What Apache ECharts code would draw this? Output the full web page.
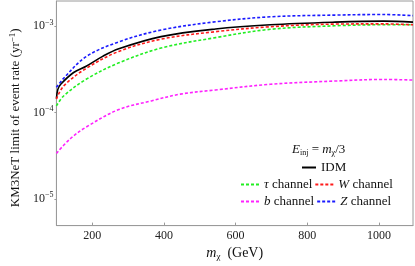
<!DOCTYPE html>
<html>
<head>
<meta charset="utf-8">
<script src="https://cdn.jsdelivr.net/npm/echarts@6/dist/echarts.min.js"></script>
<style>html,body{margin:0;padding:0;background:#fff;}#c{width:415px;height:266px;}</style>
</head>
<body>
<div id="c"></div>
<script>
// ---- data ----
const xTicks = [200, 400, 600, 800, 1000];
const yTicks = [1e-5, 1e-4, 1e-3];

const idmX = [100, 104, 112, 148, 183, 229, 274, 392, 544, 697, 877, 1013, 1095];
const idmY = [1.45e-4, 1.85e-4, 2.12e-4, 2.90e-4, 3.43e-4, 4.46e-4, 5.46e-4, 7.55e-4, 9.24e-4, 1.035e-3, 1.11e-3, 1.14e-3, 1.11e-3];

const tauX = [100, 120, 183, 274, 392, 544, 697, 877, 1013, 1095];
const tauY = [1.19e-4, 1.55e-4, 2.42e-4, 3.75e-4, 5.56e-4, 7.35e-4, 9.17e-4, 1.007e-3, 1.035e-3, 1.035e-3];

const wX = [100, 120, 183, 274, 392, 544, 697, 877, 1013, 1095];
const wY = [1.43e-4, 2.02e-4, 3.23e-4, 5.08e-4, 7.05e-4, 8.61e-4, 9.82e-4, 1.054e-3, 1.06e-3, 1.035e-3];

const bX = [100, 139, 183, 274, 365, 446, 544, 697, 877, 1013, 1095];
const bY = [3.36e-5, 4.98e-5, 6.77e-5, 1.08e-4, 1.36e-4, 1.63e-4, 1.82e-4, 2.12e-4, 2.31e-4, 2.41e-4, 2.37e-4];

const zX = [100, 120, 183, 274, 392, 544, 697, 877, 1013, 1095];
const zY = [1.95e-4, 2.48e-4, 4.43e-4, 6.56e-4, 9.0e-4, 1.12e-3, 1.28e-3, 1.34e-3, 1.36e-3, 1.32e-3];

// ---- chart ----
const pairs = (xs, ys) => xs.map((x, i) => [x, ys[i]]);
const FONT = '"Liberation Serif", "DejaVu Serif", serif';
const AX = '#9a9a9a';
const dash = [3, 2];

function lineSeries(name, xs, ys, color, type) {
  return {
    name: name, type: 'line', data: pairs(xs, ys), smooth: 0.35,
    symbol: 'none', showSymbol: false,
    lineStyle: { color: color, width: 1.6, type: type },
    itemStyle: { color: color },
    emphasis: { disabled: true }, animation: false
  };
}

const LF = 13;
const legendRich = {
  i: { fontFamily: FONT, fontStyle: 'italic', fontWeight: 'normal', fontSize: LF, color: '#111' },
  n: { fontFamily: FONT, fontWeight: 'normal', fontSize: LF, color: '#111' }
};
function legendFmt(name) {
  const parts = name.split(' ');
  if (parts.length === 2) return '{i|' + parts[0] + '}{n| ' + parts[1] + '}';
  return '{n|' + name + '}';
}
const legendBase = {
  orient: 'horizontal', itemWidth: 18, itemHeight: 8, itemGap: 2, padding: 0,
  formatter: legendFmt, textStyle: { rich: legendRich },
  itemStyle: { opacity: 0 },
  selectedMode: false
};

const supLabel = (v) => {
  const e = Math.round(Math.log10(v));
  return '{b|10}{s|' + (e < 0 ? '\u2212' + (-e) : e) + '}';
};

const chart = echarts.init(document.getElementById('c'), null, { renderer: 'canvas' });
chart.setOption({
  animation: false,
  backgroundColor: '#fff',
  grid: { left: 46, right: 2, top: 1, bottom: 38, show: true, borderColor: AX, borderWidth: 1, containLabel: false },
  title: {
    text: '{i|E}{sub|inj}{n| = }{i|m}{sub|\u03c7}{n|/3}',
    left: 292, top: 143, padding: 0,
    textStyle: {
      fontWeight: 'normal',
      rich: {
        i: { fontFamily: FONT, fontStyle: 'italic', fontWeight: 'normal', fontSize: 13, color: '#111' },
        n: { fontFamily: FONT, fontWeight: 'normal', fontSize: 13, color: '#111' },
        sub: { fontFamily: FONT, fontWeight: 'normal', fontSize: 8, color: '#111', padding: [6, 0, 0, 0] }
      }
    }
  },
  legend: [
    Object.assign({}, legendBase, { data: ['IDM'], left: 301, top: 161, itemWidth: 14 }),
    Object.assign({}, legendBase, { data: ['\u03c4 channel', 'W channel'], left: 240, top: 178 }),
    Object.assign({}, legendBase, { data: ['b channel', 'Z channel'], left: 240, top: 195 })
  ],
  xAxis: {
    type: 'value', min: 100, max: 1095,
    name: '{i|m}{sub|\u03c7}{n|  (GeV)}', nameLocation: 'middle', nameGap: 18,
    nameTextStyle: {
      rich: {
        i: { fontFamily: FONT, fontStyle: 'italic', fontSize: 14, color: '#111' },
        n: { fontFamily: FONT, fontSize: 14, color: '#111' },
        sub: { fontFamily: FONT, fontSize: 9, color: '#111', padding: [6, 0, 0, 0] }
      }
    },
    axisLine: { show: true, lineStyle: { color: AX, width: 1 } },
    axisTick: { show: true, inside: true, length: 3, lineStyle: { color: AX }, customValues: xTicks },
    axisLabel: { fontFamily: FONT, fontSize: 12, color: '#222', margin: 4, customValues: xTicks, formatter: (v) => String(v) },
    splitLine: { show: false }
  },
  yAxis: {
    type: 'log', logBase: 10, min: 4.9e-6, max: 1.95e-3,
    name: 'KM3NeT limit of event rate (yr{s|\u22121})', nameLocation: 'middle', nameGap: 31,
    nameTextStyle: {
      fontFamily: FONT, fontSize: 13, color: '#111', padding: [0, 9, 0, 0],
      rich: { s: { fontFamily: FONT, fontSize: 9, color: '#111', verticalAlign: 'top', padding: [0, 0, 6, 0] } }
    },
    axisLine: { show: true, lineStyle: { color: AX, width: 1 } },
    axisTick: { show: true, inside: false, length: 2, lineStyle: { color: AX }, customValues: yTicks },
    axisLabel: {
      formatter: supLabel, margin: 3, customValues: yTicks,
      rich: {
        b: { fontFamily: FONT, fontSize: 12, color: '#222' },
        s: { fontFamily: FONT, fontSize: 8, color: '#222', padding: [0, 0, 7, 0] }
      }
    },
    splitLine: { show: false }
  },
  series: [
    lineSeries('IDM', idmX, idmY, '#000000', 'solid'),
    lineSeries('\u03c4 channel', tauX, tauY, '#22ee22', dash),
    lineSeries('W channel', wX, wY, '#ff1a1a', dash),
    lineSeries('b channel', bX, bY, '#ff22ff', dash),
    lineSeries('Z channel', zX, zY, '#1a1aff', dash)
  ]
});
</script>
</body>
</html>
